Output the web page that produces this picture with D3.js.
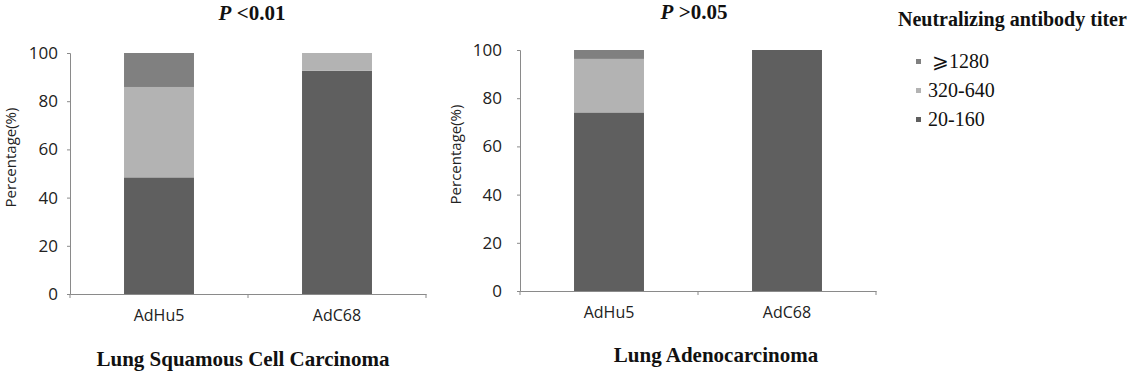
<!DOCTYPE html>
<html>
<head>
<meta charset="utf-8">
<script src="https://cdn.jsdelivr.net/npm/d3@7"></script>
<style>
  body { margin: 0; background: #fff; }
  svg { display: block; }
  .tick text { font-family: "Open Sans", "DejaVu Sans", sans-serif; fill: #222; }
</style>
</head>
<body>
<div id="chart"></div>
<script>
// data (percent of patients per titer group)
var categories = ["AdHu5", "AdC68"];
var titerKeys = ["20-160", "320-640", "≥1280"];
var squamous_20_160 = [48.4, 92.6];
var squamous_320_640 = [37.5, 7.4];
var squamous_1280 = [14.1, 0];
var adeno_20_160 = [74.1, 100];
var adeno_320_640 = [22.2, 0];
var adeno_1280 = [3.7, 0];
var yTicks = [0, 20, 40, 60, 80, 100];
var legendLabels = ["⩾1280", "320-640", "20-160"];

var color = d3.scaleOrdinal()
  .domain(titerKeys)
  .range(["#5f5f5f", "#b3b3b3", "#808080"]);

var svg = d3.select("#chart").append("svg")
  .attr("width", 1132)
  .attr("height", 373);

function toRows(a, b, c) {
  return categories.map(function(cat, i) {
    return {cat: cat, "20-160": a[i], "320-640": b[i], "≥1280": c[i]};
  });
}

var panels = [
  {rows: toRows(squamous_20_160, squamous_320_640, squamous_1280),
   x0: 70, x1: 426, yTop: 53, yBot: 294, pad: 9, ylabX: 11,
   ptext: "<0.01", px: 252, py: 20, title: "Lung Squamous Cell Carcinoma", tx: 243, ty: 366},
  {rows: toRows(adeno_20_160, adeno_320_640, adeno_1280),
   x0: 520, x1: 876, yTop: 50, yBot: 291, pad: 15, ylabX: 456,
   ptext: ">0.05", px: 694, py: 19, title: "Lung Adenocarcinoma", tx: 716, ty: 362}
];

var stack = d3.stack().keys(titerKeys);

panels.forEach(function(p) {
  var g = svg.append("g");

  var x = d3.scaleBand()
    .domain(categories)
    .range([p.x0, p.x1])
    .padding(0);

  var y = d3.scaleLinear()
    .domain([0, 100])
    .range([p.yBot, p.yTop]);

  var barW = x.bandwidth() * 0.393;

  var series = stack(p.rows);

  g.selectAll(".layer")
    .data(series)
    .enter().append("g")
    .attr("class", "layer")
    .attr("fill", function(d) { return color(d.key); })
    .selectAll("rect")
    .data(function(d) { return d; })
    .enter().append("rect")
    .attr("x", function(d) { return x(d.data.cat) + (x.bandwidth() - barW) / 2; })
    .attr("y", function(d) { return y(d[1]); })
    .attr("width", barW)
    .attr("height", function(d) { return y(d[0]) - y(d[1]); });

  // y axis
  var yAxis = g.append("g")
    .attr("transform", "translate(" + p.x0 + ",0)")
    .call(d3.axisLeft(y).tickValues(yTicks).tickSize(3).tickPadding(p.pad));
  yAxis.selectAll("line, path").attr("stroke", "#8a8a8a");
  yAxis.selectAll("text").style("font-size", "17px");

  // x axis with boundary ticks
  var xAxis = g.append("g")
    .attr("transform", "translate(0," + p.yBot + ")")
    .call(d3.axisBottom(x).tickSize(0).tickPadding(16));
  xAxis.select("path").attr("stroke", "#8a8a8a");
  xAxis.selectAll("text").style("font-size", "16px");
  var bounds = categories.map(function(c) { return x(c); }).concat([p.x1]);
  xAxis.selectAll(".bound")
    .data(bounds)
    .enter().append("line")
    .attr("class", "bound")
    .attr("x1", function(d) { return d; })
    .attr("x2", function(d) { return d; })
    .attr("y1", 0)
    .attr("y2", 4)
    .attr("stroke", "#8a8a8a");

  // y label
  g.append("text")
    .attr("transform", "translate(" + p.ylabX + "," + ((p.yTop + p.yBot) / 2 - 16) + ") rotate(-90)")
    .attr("text-anchor", "middle")
    .attr("dy", "0.35em")
    .style("font-family", "'Open Sans', 'DejaVu Sans', sans-serif")
    .style("font-size", "15px")
    .attr("fill", "#222")
    .text("Percentage(%)");

  // p-value heading
  var pt = g.append("text")
    .attr("x", p.px)
    .attr("y", p.py)
    .attr("text-anchor", "middle")
    .style("font-family", "'Liberation Serif', 'Times New Roman', serif")
    .style("font-size", "21px")
    .style("font-weight", "bold")
    .attr("fill", "#111");
  pt.append("tspan").style("font-style", "italic").text("P");
  pt.append("tspan").text(" " + p.ptext);

  // panel title
  g.append("text")
    .attr("x", p.tx)
    .attr("y", p.ty)
    .attr("text-anchor", "middle")
    .style("font-family", "'Liberation Serif', 'Times New Roman', serif")
    .style("font-size", "21px")
    .style("font-weight", "bold")
    .attr("fill", "#111")
    .text(p.title);
});

// legend
var legend = svg.append("g");
legend.append("text")
  .attr("x", 898)
  .attr("y", 26)
  .style("font-family", "'Liberation Serif', 'Times New Roman', serif")
  .style("font-size", "20px")
  .style("font-weight", "bold")
  .attr("fill", "#111")
  .text("Neutralizing antibody titer");

var legendKeys = titerKeys.slice().reverse();
var ly = d3.scalePoint().domain(legendKeys).range([62, 120]);

var item = legend.selectAll(".item")
  .data(legendKeys)
  .enter().append("g")
  .attr("class", "item")
  .attr("transform", function(d) { return "translate(0," + ly(d) + ")"; });

item.append("rect")
  .attr("x", 916)
  .attr("y", -3)
  .attr("width", 5)
  .attr("height", 5)
  .attr("fill", function(d) { return color(d); });

item.append("text")
  .attr("x", function(d, i) { return i === 0 ? 932 : 928; })
  .attr("y", 6)
  .style("font-family", "'Liberation Serif', 'DejaVu Serif', serif")
  .style("font-size", "20px")
  .attr("fill", "#111")
  .text(function(d, i) { return legendLabels[i]; });
</script>
</body>
</html>
